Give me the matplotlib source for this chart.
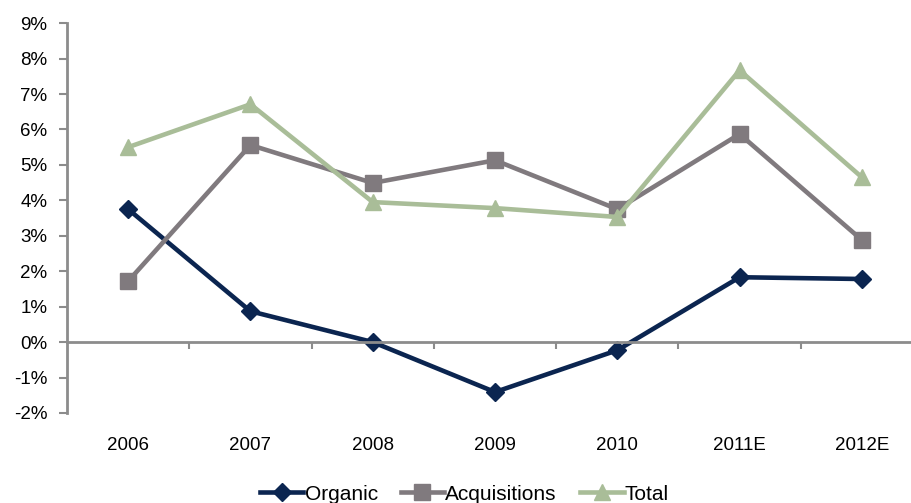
import numpy as np
import matplotlib.pyplot as plt
from matplotlib.ticker import FuncFormatter

plt.rcParams['font.family'] = ['Liberation Sans', 'DejaVu Sans']

years = ['2006', '2007', '2008', '2009', '2010', '2011E', '2012E']
organic = [3.75, 0.87, 0.0, -1.41, -0.23, 1.83, 1.78]
acquisitions = [1.72, 5.56, 4.49, 5.13, 3.75, 5.87, 2.88]
total = [5.50, 6.71, 3.95, 3.78, 3.53, 7.67, 4.65]

c_org = '#0b2550'
c_acq = '#807a7e'
c_tot = '#a9bd98'
axis_col = '#8c8c8c'

fig = plt.figure(figsize=(9.12, 5.03), dpi=100)
# right end of the axis runs past the picture edge, like the reference
ax = fig.add_axes([0.0735, 0.179, 0.9386, 0.775])

x = np.arange(len(years))
ax.plot(x, organic, color=c_org, lw=3.3, marker='D', ms=9, label='Organic', clip_on=False)
ax.plot(x, acquisitions, color=c_acq, lw=3.3, marker='s', ms=12, label='Acquisitions', clip_on=False)
ax.plot(x, total, color=c_tot, lw=3.3, marker='^', ms=12, label='Total', clip_on=False)

ax.set_xlim(-0.5, len(years) - 0.5)
ax.set_ylim(-2, 9)
ax.set_yticks(np.arange(-2, 10, 1))
ax.yaxis.set_major_formatter(FuncFormatter(lambda v, p: '%d%%' % v))

ax.spines['top'].set_visible(False)
ax.spines['right'].set_visible(False)
ax.spines['bottom'].set_position(('data', 0))
for s in ['left', 'bottom']:
    ax.spines[s].set_color(axis_col)
    ax.spines[s].set_linewidth(2)

ax.set_xticks(x)
ax.set_xticklabels(years)
ax.set_xticks(np.arange(0.5, len(years) - 0.5, 1), minor=True)
ax.tick_params(axis='x', which='major', length=0, pad=68, labelsize=13.5)
ax.tick_params(axis='x', which='minor', length=5, width=1.5, color=axis_col, direction='out')
ax.tick_params(axis='y', length=6, width=1.5, color=axis_col, labelsize=13.5, pad=8)

ax.legend(loc='upper center', bbox_to_anchor=(0.464, -0.184), ncol=3, frameon=False,
          fontsize=15, handlelength=2.1, handletextpad=0.05, columnspacing=1.1,
          borderaxespad=0, borderpad=0)

fig.savefig('out.png', dpi=100)
